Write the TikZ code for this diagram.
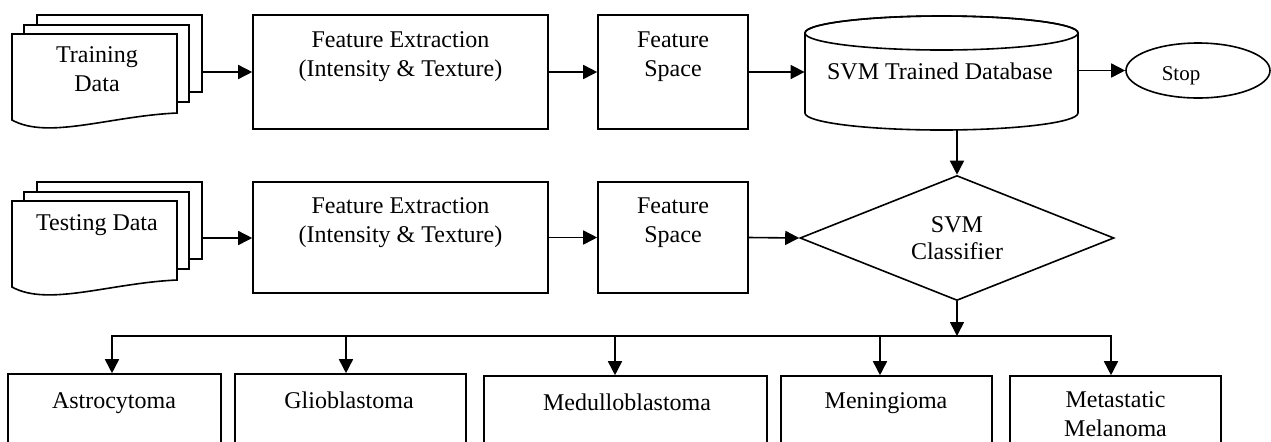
\documentclass[tikz,border=0pt]{standalone}
\usepackage{fontspec}
\setmainfont{Liberation Serif}
\usetikzlibrary{arrows.meta,shapes.geometric,fit}

\tikzset{
  flow/.style={line width=0.8pt},
  arr/.style={flow,-{Triangle[length=7pt,width=7pt]}},
  page/.style={flow,draw,fill=white,line join=miter},
  box/.style={draw,flow,rectangle,inner sep=0pt},
  lbl/.style={inner sep=0pt,align=center,font=\fontsize{12}{14.5}\selectfont},
}

% stack of three pages, the front one with a wavy lower edge; #1 = vertical offset
\newcommand\pagestack[1]{%
  \path[page] (37,{15+#1}) rectangle (202,{92+#1});
  \path[page] (24,{25+#1}) rectangle (189,{102+#1});
  \path[page] (12,{34+#1}) -- (177,{34+#1}) -- (177,{113+#1})
     .. controls (110,{116+#1}) and (48,{140+#1}) .. (12,{120+#1}) -- cycle;
}

\begin{document}
\begin{tikzpicture}[x=0.5pt,y=-0.5pt]
\useasboundingbox (0,0) rectangle (1271,441);
\clip (0,0) rectangle (1271,441);

% ---------- training branch ----------
\pagestack{0}
\coordinate (trainout) at (202,72);
\node[lbl] (train) at (97,69.3) {Training\\Data};

\node[box,fit={(253,15) (548,129)}] (fe1) {};
\node[lbl] (fe1txt) at (400.5,57) {Feature Extraction\\(Intensity \& Texture)};

\node[box,fit={(598,15) (748,129)}] (fs1) {};
\node[lbl] (fs1txt) at (673,57) {Feature\\Space};

% trained database drawn as a cylinder
\path[page] (805,33) -- (805,113)
   arc[start angle=180,end angle=0,x radius=136.5,y radius=17]
   -- (1078,33)
   arc[start angle=0,end angle=-180,x radius=136.5,y radius=17] -- cycle;
\draw[flow] (941.5,33) ellipse [x radius=136.5,y radius=17];
\node[fit={(805,16) (1078,130)},inner sep=0pt] (db) {};
\node[lbl,anchor=base] (dbtxt) at (940,79) {SVM Trained Database};

\node[draw,flow,ellipse,minimum width=72pt,minimum height=27.5pt,inner sep=0pt] (stop) at (1198,70.5) {};
\node[lbl,font=\fontsize{10.5}{12}\selectfont,anchor=base] (stoptxt) at (1181,80) {Stop};

% ---------- testing branch ----------
\pagestack{167}
\coordinate (testout) at (202,238);
\node[lbl,anchor=base] (test) at (97,230) {Testing Data};

\node[box,fit={(253,182) (548,293)}] (fe2) {};
\node[lbl] (fe2txt) at (400.5,223) {Feature Extraction\\(Intensity \& Texture)};

\node[box,fit={(598,182) (748,293)}] (fs2) {};
\node[lbl] (fs2txt) at (673,223) {Feature\\Space};

\node[draw,flow,diamond,aspect=2.5,minimum width=157pt,minimum height=62.5pt,lbl,
      font=\fontsize{12}{13.5}\selectfont]
  (svm) at (957,238) {SVM\\Classifier};

% ---------- tumour classes ----------
\node[box,fit={(8,374) (221,470)}] (astro) {};
\node[box,fit={(235,374) (466,470)}] (glio) {};
\node[box,fit={(484,376) (767,470)}] (medullo) {};
\node[box,fit={(781,376) (992,470)}] (menin) {};
\node[box,fit={(1010,376) (1221,470)}] (meta) {};

\node[lbl,anchor=base] at (114,408) {Astrocytoma};
\node[lbl,anchor=base] at (349,408) {Glioblastoma};
\node[lbl,anchor=base] at (627,410) {Medulloblastoma};
\node[lbl,anchor=base] at (886,408) {Meningioma};
\node[lbl] at (1115.5,413.8) {Metastatic\\Melanoma};

% ---------- connectors ----------
\draw[arr] (trainout) -- (trainout -| fe1.west);
\draw[arr] (fe1.east) -- (fs1.west);
\draw[arr] (fs1.east) -- (fs1.east -| db.west);
\draw[arr] (db.east |- stop.west) -- (stop.west);
\draw[arr] (svm.north |- db.south) -- (svm.north);

\draw[arr] (testout) -- (testout -| fe2.west);
\draw[arr] (fe2.east) -- (fs2.west);
\draw[arr] (fs2.east) -- (svm.west);

\coordinate (bus) at (957,336);
\draw[arr] (svm.south) -- (bus);
\draw[arr] (bus) -| ([xshift=-1.25pt]astro.north);
\draw[arr] (bus) -| ([xshift=-2.25pt]glio.north);
\draw[arr] (bus) -| ([xshift=-5.25pt]medullo.north);
\draw[arr] (bus) -| ([xshift=-3.25pt]menin.north);
\draw[arr] (bus) -| ([xshift=-2.25pt]meta.north);
\end{tikzpicture}
\end{document}
